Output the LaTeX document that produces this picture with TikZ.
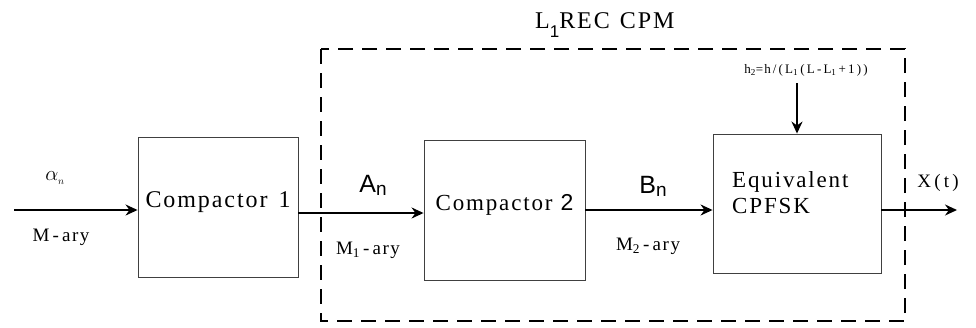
\documentclass[tikz,border=0pt]{standalone}
\usepackage{fontspec}
\setmainfont{Liberation Serif}
\newfontfamily\spaced[LetterSpace=8]{Liberation Serif}
\newfontfamily\sanslab{Liberation Sans}
\usetikzlibrary{arrows.meta}
\begin{document}
\begin{tikzpicture}[x=1pt,y=-1pt,
  blk/.style={draw=black!75, line width=0.9pt, inner sep=0pt},
  conn/.style={line width=1.6pt, -{Stealth[length=12pt,width=11pt]}},
  lbl/.style={inner sep=0pt, font=\spaced\fontsize{19}{21}\selectfont},
  big/.style={inner sep=0pt, font=\sanslab\fontsize{25}{27}\selectfont},
  frame/.style={line width=1.8pt, dash pattern=on 15pt off 9pt}]
\useasboundingbox (0,0) rectangle (976,327);
% dashed frame
\draw[frame] (321,49) rectangle (905,321);
\node[inner sep=0pt, anchor=base west] (title) at (535,28)
  {\spaced\fontsize{24}{26}\selectfont L\raisebox{-9pt}{\sanslab\fontsize{17}{17}\selectfont 1}REC\hspace{10pt}CPM};
% blocks
\node[blk, minimum width=160pt, minimum height=140pt] (c1) at (218,207) {};
\node[inner sep=0pt, anchor=base] (c1t) at (c1.center |- 0,207) {\spaced\fontsize{24}{26}\selectfont Compactor\hspace{11pt}1};
\node[blk, minimum width=161pt, minimum height=140pt] (c2) at (504.5,210.5) {};
\node[inner sep=0pt, anchor=base] (c2t) at (c2.center |- 0,210) {\spaced\fontsize{23}{25}\selectfont Compactor\hspace{8pt}{\sanslab 2}};
\node[blk, minimum width=168pt, minimum height=139pt] (eq) at (797,203.5) {};
\node[inner sep=0pt, anchor=base west, align=left, font=\spaced\fontsize{23}{26}\selectfont] (eqt) at (732,213)
  {Equivalent\\CPFSK};
% connectors
\coordinate (in) at (14,210);
\coordinate (out) at (957,210);
\coordinate (h2) at (797,83);
\draw[conn] (in) -- (in -| c1.west);
\draw[conn] (c1.east |- 0,213) -- (c2.west |- 0,213);
\draw[conn] (c2.east |- 0,210) -- (eq.west |- 0,210);
\draw[conn] (eq.east |- out) -- (out);
\draw[conn] (h2) -- (eq.north);
% labels
\node[inner sep=0pt] (alpha) at (55,178) {\fontsize{20}{22}\selectfont$\alpha_{\scriptscriptstyle n}$};
\node[lbl] (mary) at (61,237) {M\,-\,ary};
\node[big] (An) at (373,185) {A\raisebox{-3pt}{\fontsize{19}{19}\selectfont n}};
\node[lbl] (m1) at (368,250) {M\textsubscript{1}\,-\,ary};
\node[big] (Bn) at (653,186) {B\raisebox{-3pt}{\fontsize{19}{19}\selectfont n}};
\node[lbl] (m2) at (648,246) {M\textsubscript{2}\,-\,ary};
\node[lbl] (xt) at (938,183) {X\,(\,t\,)};
\node[inner sep=0pt, font=\spaced\fontsize{13}{15}\selectfont] (h2t) at (806,70)
  {h\textsubscript{2}=h\,/\,(\,L\textsubscript{1}\,(\,L\,-\,L\textsubscript{1}\,+\,1\,)\,)};
\end{tikzpicture}
\end{document}
